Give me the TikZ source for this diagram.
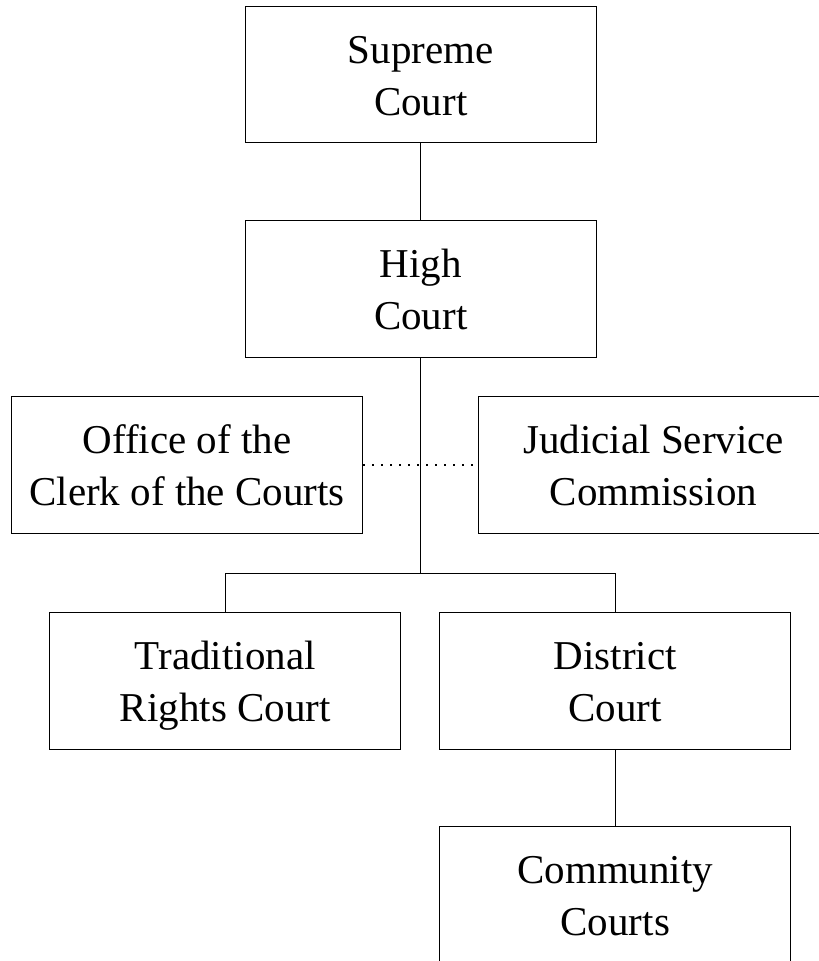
\documentclass[tikz,border=0pt]{standalone}
\usepackage{fontspec}
\setmainfont{Liberation Serif}
\newcommand{\lnstrut}{\rule[-11.5pt]{0pt}{52pt}}
\begin{document}
\begin{tikzpicture}[x=1pt,y=-1pt,
  box/.style={draw, line width=1pt, rectangle, minimum width=351pt, minimum height=136.8pt,
    inner sep=0pt, align=center, font=\fontsize{41}{52}\selectfont},
  conn/.style={line width=1pt},
  dotconn/.style={line width=1.8pt, dash pattern=on 1.8pt off 7.2pt}]
\useasboundingbox (0,0) rectangle (819,961);
\clip (0,0) rectangle (819,961);
\node[box] (sup) at (420.7,74.5) {\lnstrut Supreme\\\lnstrut Court};
\node[box] (high) at (420.7,289.3) {\lnstrut High\\\lnstrut Court};
\node[box] (office) at (187,465.3) {\lnstrut Office of the\\\lnstrut Clerk of the Courts};
\node[box] (jsc) at (653.6,465.3) {\lnstrut Judicial Service\\\lnstrut Commission};
\node[box] (trc) at (225.3,680.7) {\lnstrut Traditional\\\lnstrut Rights Court};
\node[box] (dist) at (615.3,680.7) {\lnstrut District\\\lnstrut Court};
\node[box] (comm) at (615.3,895) {\lnstrut Community\\\lnstrut Courts};
\coordinate (j) at (420.5,573.3);
\draw[conn] (sup.south -| j) -- (high.north -| j);
\draw[conn] (high.south -| j) -- (j);
\draw[conn] (trc.north) |- (j) -| (dist.north);
\draw[conn] (dist.south) -- (comm.north);
\draw[dotconn] (office.east) -- (jsc.west);
\end{tikzpicture}
\end{document}
